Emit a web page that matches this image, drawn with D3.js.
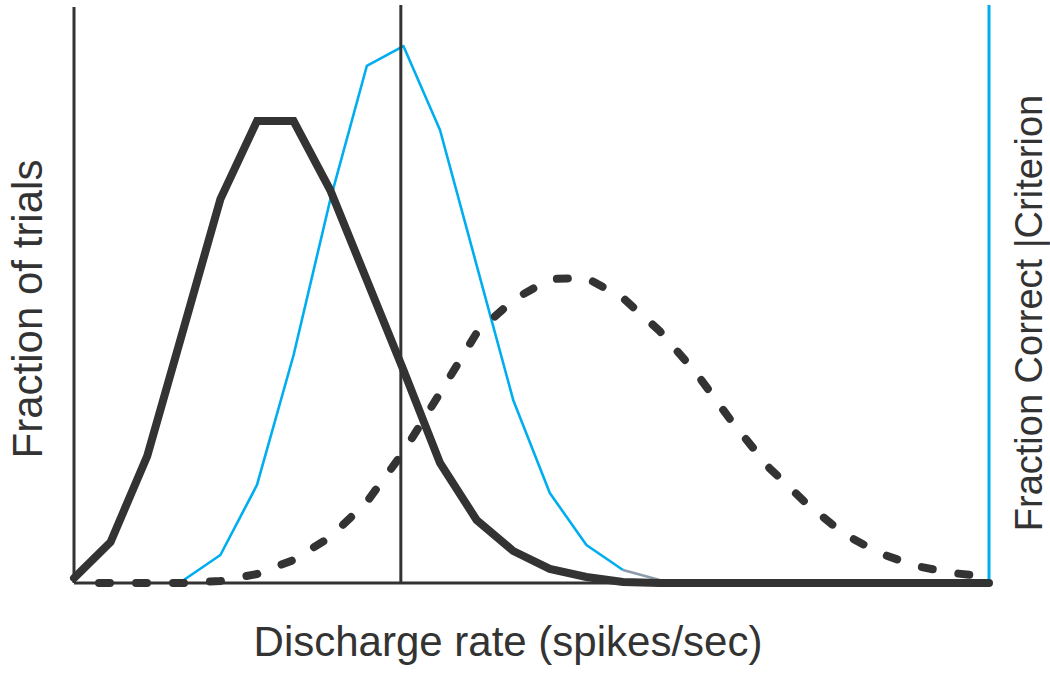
<!DOCTYPE html>
<html>
<head>
<meta charset="utf-8">
<script src="https://cdn.jsdelivr.net/npm/d3@7"></script>
<style>
  html, body { margin: 0; padding: 0; background: #fff; }
  svg { display: block; }
  text { font-family: "Liberation Sans", Arial, sans-serif; fill: #333; }
</style>
</head>
<body>
<svg id="chart" width="1050" height="674"></svg>
<script>
// Discharge rate (spikes/sec) sample points
const rates = [0,2,4,6,8,10,12,14,16,18,20,22,24,26,28,30,32,34,36,38,40,42,44,46,48,50];
// Distribution without stimulus (thick solid)
const noise = [0.0043,0.0356,0.1102,0.2214,0.3333,0.4010,0.4010,0.3411,0.2630,0.1849,0.1042,0.0547,0.0278,0.0122,0.0052,0.0009,0,0,0,0,0,0,0,0,0,0];
// Distribution with stimulus (thick dashed)
const signal = [0,0,0,0,0.0017,0.0078,0.0200,0.0399,0.0703,0.1137,0.1649,0.2170,0.2457,0.2639,0.2648,0.2474,0.2188,0.1823,0.1389,0.0998,0.0694,0.0434,0.0260,0.0148,0.0087,0.0052];
// Fraction correct curve (thin blue)
const fracCorrect = [0,0,0,0.0026,0.0243,0.0851,0.1979,0.3325,0.4488,0.4661,0.3932,0.2760,0.1589,0.0781,0.0330,0.0113,0.0026,0,0,0,0,0,0,0,0,0];
const criterion = 17.86;

const labels = {
  x: "Discharge rate (spikes/sec)",
  yLeft: "Fraction of trials",
  yRight: "Fraction Correct |Criterion"
};

const svg = d3.select("#chart");
const x = d3.scaleLinear().domain([0, 50]).range([74, 989]);
const y = d3.scaleLinear().domain([0, 0.5]).range([583, 7]);
const dark = "#333333";
const blue = "#00AEEF";

// Left axis
svg.append("line").attr("x1", x(0)).attr("x2", x(0)).attr("y1", y(0)).attr("y2", 7)
  .attr("stroke", dark).attr("stroke-width", 3);
// Bottom axis
svg.append("line").attr("x1", x(0)).attr("x2", x(50)).attr("y1", y(0)).attr("y2", y(0))
  .attr("stroke", dark).attr("stroke-width", 3);
// Right axis (blue)
svg.append("line").attr("x1", x(50)).attr("x2", x(50)).attr("y1", y(0)).attr("y2", 5)
  .attr("stroke", blue).attr("stroke-width", 3);

const line = d3.line().x((d, i) => x(rates[i])).y(d => y(d));
const startBlue = 3, endBlue = 15;

// Blue fraction correct curve
svg.append("path").datum(fracCorrect.slice(startBlue, endBlue + 1))
  .attr("d", d3.line().x((d, i) => x(rates[i + startBlue])).y(d => y(d)))
  .attr("fill", "none").attr("stroke", blue).attr("stroke-width", 2.6).attr("stroke-linejoin", "round");
svg.append("path").datum(fracCorrect.slice(endBlue))
  .attr("d", d3.line().x((d, i) => x(rates[i + endBlue])).y(d => y(d)))
  .attr("fill", "none").attr("stroke", "#8C9BAA").attr("stroke-width", 2.6);

// Criterion line
svg.append("line").attr("x1", x(criterion)).attr("x2", x(criterion)).attr("y1", y(0)).attr("y2", 5)
  .attr("stroke", dark).attr("stroke-width", 3);

// Dashed signal distribution
svg.append("path").datum(signal).attr("d", line)
  .attr("fill", "none").attr("stroke", dark).attr("stroke-width", 8)
  .attr("stroke-linecap", "round").attr("stroke-linejoin", "round")
  .attr("stroke-dasharray", "11,26").attr("stroke-dashoffset", 12);

// Solid noise distribution
svg.append("path").datum(noise).attr("d", line)
  .attr("fill", "none").attr("stroke", dark).attr("stroke-width", 8)
  .attr("stroke-linecap", "round").attr("stroke-linejoin", "miter");

// Titles
svg.append("text").attr("x", 508).attr("y", 656).attr("text-anchor", "middle")
  .attr("font-size", 42).text(labels.x);
svg.append("text").attr("transform", "translate(42,309) rotate(-90)").attr("text-anchor", "middle")
  .attr("font-size", 42).text(labels.yLeft);
svg.append("text").attr("transform", "translate(1042,313) rotate(-90)").attr("text-anchor", "middle")
  .attr("font-size", 38).text(labels.yRight);
</script>
</body>
</html>
